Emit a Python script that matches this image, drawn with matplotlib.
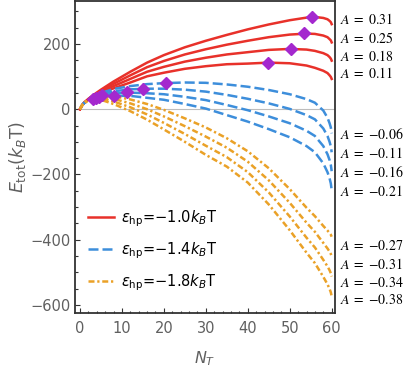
"""
Total energy vs. number of bound sites for three hydrophobic strengths.
"""

import matplotlib
matplotlib.use("Agg")
import matplotlib.pyplot as plt
from matplotlib.ticker import MultipleLocator

# grid of N_T values where the curves were read
NT = [0, 0.5, 1, 2, 3, 5, 8, 12, 16, 20, 25, 30, 35, 40, 45, 50, 54, 56, 58, 59, 59.5, 59.8, 60]

# eps_hp = -1.0 kT (solid red)
red_curves = [
    [0, 12, 20, 32, 42, 60, 85, 115, 143, 166, 190, 210, 228, 245, 260, 273, 281, 283, 280, 276, 271, 267, 261],
    [0, 12, 20, 31, 40, 57, 78, 104, 129, 148, 168, 184, 198, 210, 221, 229, 232, 231, 226, 221, 215, 211, 205],
    [0, 12, 20, 30, 38, 54, 71, 93, 115, 130, 146, 158, 168, 175, 182, 185, 183, 179, 172, 166, 160, 155, 149],
    [0, 12, 20, 29, 36, 51, 64, 82, 101, 112, 124, 132, 138, 140, 143, 141, 134, 127, 118, 111, 104, 99, 93],
]
# eps_hp = -1.4 kT (dashed blue)
blue_curves = [
    [0, 12, 19, 30, 38, 50, 62, 71, 77, 80, 82, 81, 76, 69, 59, 46, 31, 20, -4, -26, -43, -56, -74],
    [0, 12, 19, 29, 36, 46, 55, 61, 63, 63, 60, 54, 44, 32, 18, 1, -18, -31, -59, -82, -100, -114, -132],
    [0, 12, 19, 28, 34, 42, 48, 51, 49, 46, 38, 28, 13, -3, -22, -43, -66, -82, -113, -138, -156, -171, -190],
    [0, 12, 19, 27, 32, 38, 41, 41, 35, 29, 16, 2, -18, -38, -61, -86, -113, -132, -166, -193, -212, -228, -248],
]
# eps_hp = -1.8 kT (dash-dot orange)
orange_curves = [
    [0, 12, 19, 30, 38, 44, 40, 30, 16, -2, -28, -56, -89, -129, -181, -245, -302, -328, -358, -372, -380, -385, -391],
    [0, 12, 19, 29, 36, 39, 32, 18, 0, -22, -52, -84, -118, -161, -218, -287, -348, -376, -410, -427, -437, -444, -452],
    [0, 12, 19, 28, 34, 34, 24, 6, -16, -42, -76, -112, -147, -193, -255, -329, -394, -424, -462, -482, -494, -503, -513],
    [0, 12, 19, 27, 32, 29, 16, -6, -32, -62, -100, -140, -176, -225, -292, -371, -440, -472, -514, -537, -551, -562, -574],
]

# maxima marked by diamonds
peak_x = [55.3, 53.3, 50.2, 44.8, 20.5, 15.1, 11.1, 8.1, 5.3, 4.5, 3.8, 3.1]
peak_y = [283, 233, 184, 141, 79, 63, 52, 42, 44, 38, 35, 31]

# asymmetry labels on the right
red_A = ["0.31", "0.25", "0.18", "0.11"]
red_A_y = [276, 218, 161, 110]
blue_A = ["-0.06", "-0.11", "-0.16", "-0.21"]
blue_A_y = [-76, -135, -193, -251]
orange_A = ["-0.27", "-0.31", "-0.34", "-0.38"]
orange_A_y = [-418, -475, -532, -585]

eps_labels = ["-1.0", "-1.4", "-1.8"]

RED = "#E8312A"
BLUE = "#3D8EDB"
ORANGE = "#EAA127"
PURPLE = "#A428CE"
GRAY = "#606060"


def main() -> None:
    fig = plt.figure(figsize=(4.15, 3.68), dpi=100)
    ax = fig.add_axes([0.1807, 0.1495, 0.6265, 0.8478])

    ax.axhline(0, color="#bdbdbd", lw=0.8, zorder=0)

    styles = [
        (red_curves, RED, "-"),
        (blue_curves, BLUE, (0, (4.0, 1.6))),
        (orange_curves, ORANGE, (0, (2.4, 1.1, 0.9, 1.1))),
    ]
    for (curves, color, ls), eps in zip(styles, eps_labels):
        for i, ys in enumerate(curves):
            label = None
            if i == 0:
                label = r"$\epsilon_{\rm hp}$=" + eps.replace("-", "\u2212") + r"$k_B$T"
            ax.plot(NT, ys, color=color, ls=ls, lw=1.8, label=label, zorder=2)

    ax.plot(peak_x, peak_y, ls="none", marker="D", ms=6, color=PURPLE, zorder=3)

    for labels, ys in [(red_A, red_A_y), (blue_A, blue_A_y), (orange_A, orange_A_y)]:
        for a, y in zip(labels, ys):
            ax.text(62.0, y, r"$A\;=\;$" + "$" + a + "$", fontsize=10,
                    math_fontfamily="stix", va="center", ha="left", color="black")

    ax.set_xlim(-1.19, 60.79)
    ax.set_ylim(-625, 332)
    ax.xaxis.set_major_locator(MultipleLocator(10))
    ax.xaxis.set_minor_locator(MultipleLocator(2))
    ax.yaxis.set_major_locator(MultipleLocator(200))
    ax.yaxis.set_minor_locator(MultipleLocator(50))
    ax.tick_params(which="both", direction="in", colors="#333333", labelcolor=GRAY,
                   labelsize=10.5, width=0.8)
    ax.tick_params(which="major", length=3.5)
    ax.tick_params(which="minor", length=1.8)
    ax.tick_params(axis="x", pad=6)
    ax.tick_params(axis="y", pad=3)
    for sp in ax.spines.values():
        sp.set_color("#333333")
        sp.set_linewidth(1.3)

    ax.set_xlabel(r"$N_T$", color=GRAY, fontsize=11.5, labelpad=9)
    ax.set_ylabel(r"$E_{\rm tot}(k_B\mathrm{T})$", color=GRAY, fontsize=12.5, labelpad=2)

    ax.legend(loc="center left", bbox_to_anchor=(0.05, 0.2), frameon=False,
              fontsize=10.5, handlelength=1.75, handletextpad=0.5,
              labelspacing=0.8, borderpad=0, borderaxespad=0)

    fig.savefig("out.png", dpi=100)
    plt.close(fig)


if __name__ == "__main__":
    main()
